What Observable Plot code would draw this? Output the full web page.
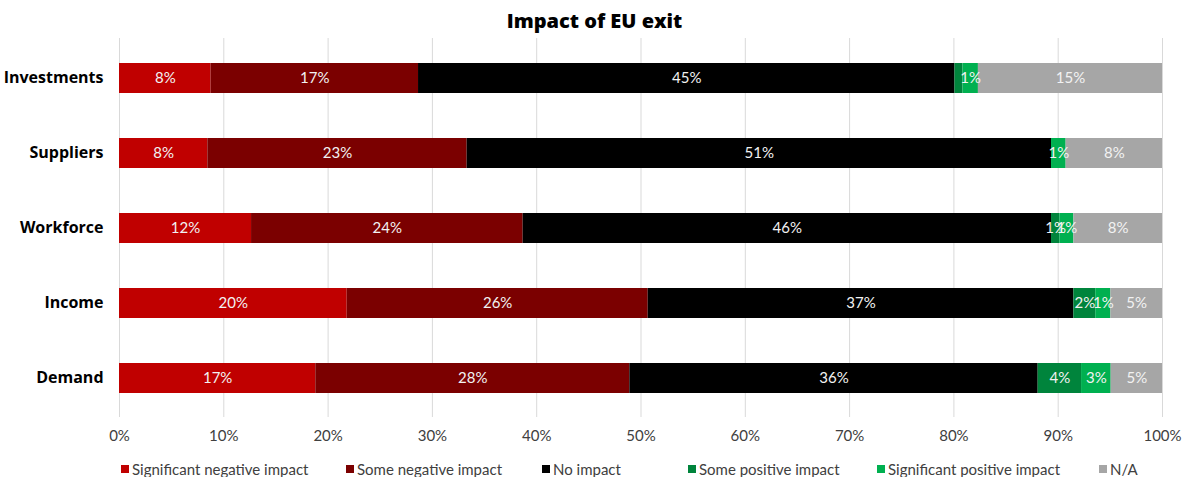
<!DOCTYPE html>
<html><head><meta charset="utf-8">
<script src="https://cdn.jsdelivr.net/npm/d3@7"></script>
<script src="https://cdn.jsdelivr.net/npm/@observablehq/plot@0.6"></script>
<style>
body{margin:0;background:#fff;font-family:Lato, "Open Sans", sans-serif;}
#wrap{position:relative;width:1189px;height:477px;overflow:hidden;}
#title{height:38px;box-sizing:border-box;padding-top:8px;text-align:center;font-family:"Open Sans", sans-serif;font-weight:800;font-size:20px;line-height:26px;color:#000;}
#chart svg{display:block;}
#legend{position:absolute;top:461px;left:0;width:1189px;height:16px;font-size:15px;color:#404040;}
.item{position:absolute;top:0;display:flex;align-items:center;white-space:nowrap;line-height:16px;}
.sw{width:8px;height:8px;margin-right:3px;}
</style></head>
<body>
<div id="wrap">
  <div id="title">Impact of EU exit</div>
  <div id="chart"></div>
  <div id="legend"></div>
</div>
<script>
// ---- data ----
const categories = ["Investments", "Suppliers", "Workforce", "Income", "Demand"];
const seriesNames = ["Significant negative impact", "Some negative impact", "No impact", "Some positive impact", "Significant positive impact", "N/A"];
const seriesColors = ["#c00000", "#7b0000", "#000000", "#00843c", "#00b050", "#a6a6a6"];

// share of each bar (in %)
const sigNeg   = [8.78, 8.47, 12.66, 21.83, 18.82];
const someNeg  = [19.89, 24.86, 26.04, 28.86, 30.11];
const noImpact = [51.43, 56.03, 50.66, 40.81, 39.15];
const somePos  = [0.77, 0, 0.8, 2.1, 4.16];
const sigPos   = [1.48, 1.4, 1.34, 1.45, 2.84];
const na       = [17.65, 9.24, 8.5, 4.95, 4.92];

// printed data labels (%)
const sigNegLabel   = [8, 8, 12, 20, 17];
const someNegLabel  = [17, 23, 24, 26, 28];
const noImpactLabel = [45, 51, 46, 37, 36];
const somePosLabel  = [null, null, 1, 2, 4];
const sigPosLabel   = [1, 1, 1, 1, 3];
const naLabel       = [15, 8, 8, 5, 5];

const xTicks = [0, 10, 20, 30, 40, 50, 60, 70, 80, 90, 100];

// ---- build table ----
const shares = [sigNeg, someNeg, noImpact, somePos, sigPos, na];
const labels = [sigNegLabel, someNegLabel, noImpactLabel, somePosLabel, sigPosLabel, naLabel];
const rows = [];
seriesNames.forEach((s, si) => {
  categories.forEach((c, ci) => {
    rows.push({category: c, series: s, share: shares[si][ci], label: labels[si][ci]});
  });
});

const color = {domain: seriesNames, range: seriesColors};

const chart = Plot.plot({
  width: 1189,
  height: 409,
  marginTop: 0,
  marginLeft: 119,
  marginRight: 27,
  marginBottom: 30,
  style: {fontFamily: "Lato, 'Open Sans', sans-serif", fontSize: "15px", background: "#fff"},
  x: {domain: [0, 100], label: null},
  y: {domain: categories, paddingInner: 0.604, paddingOuter: 0.302, label: null},
  color,
  marks: [
    Plot.gridX(xTicks, {stroke: "#d9d9d9", strokeOpacity: 1, strokeWidth: 1}),
    Plot.barX(rows, Plot.stackX({x: "share", y: "category", fill: "series", z: "series", order: seriesNames})),
    Plot.text(rows, Plot.stackX({
      x: "share", y: "category", z: "series", order: seriesNames,
      text: d => d.label == null ? null : d.label + "%",
      fill: "#f2f2f2", fontSize: 15
    })),
    Plot.axisX(xTicks, {tickSize: 0, tickPadding: 13, tickFormat: d => d + "%", fontSize: 15, color: "#404040", label: null}),
    Plot.axisY({tickSize: 0, tickPadding: 16, fontSize: 16, fontWeight: "bold", fontFamily: "'Open Sans', sans-serif", color: "#000", label: null, dy: -1})
  ]
});
document.getElementById("chart").appendChild(chart);

// ---- legend ----
const legendLefts = [121, 346, 542, 688, 877, 1099];
const legend = document.getElementById("legend");
seriesNames.forEach((s, i) => {
  const it = document.createElement("div");
  it.className = "item";
  it.style.left = legendLefts[i] + "px";
  const sw = document.createElement("span");
  sw.className = "sw";
  sw.style.background = seriesColors[i];
  const tx = document.createElement("span");
  tx.textContent = s;
  it.appendChild(sw); it.appendChild(tx);
  legend.appendChild(it);
});
</script>
</body></html>
